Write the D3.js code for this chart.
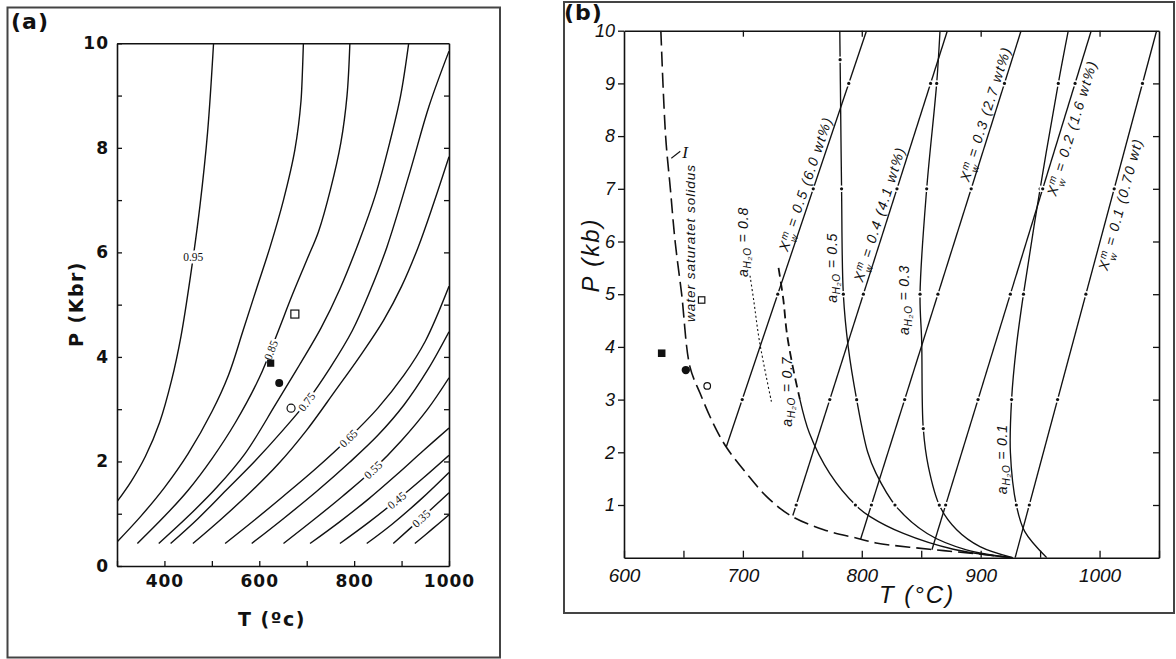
<!DOCTYPE html>
<html>
<head>
<meta charset="utf-8">
<title>Water activity and solidus, P-T</title>
<script src="https://cdn.jsdelivr.net/npm/d3@7"></script>
<style>
  body { margin: 0; background: #fff; }
  svg { display: block; }
</style>
</head>
<body>
<svg id="chart" width="1176" height="659"></svg>
<script>
// ---------- panel (a): water activity contours, T in degC, P in kbar ----------
const tempTicksA = [400, 600, 800, 1000];
const presTicksA = [0, 2, 4, 6, 8, 10];
const contourLevels = [0.95, 0.90, 0.85, 0.80, 0.75, 0.70, 0.65, 0.60, 0.55, 0.50, 0.45, 0.40, 0.35, 0.30];

const c095 = [[300, 1.23], [330, 1.62], [360, 2.1], [390, 2.75], [415, 3.55], [435, 4.4], [455, 5.55], [475, 6.9], [491, 8.3], [503.6, 10]];
const c090 = [[300, 0.46], [350, 0.95], [400, 1.5], [450, 2.15], [500, 2.95], [535, 3.65], [566, 4.51], [594, 5.3], [623, 6.11], [651, 7.0], [675, 7.96], [688, 8.9], [693, 10]];
const c085 = [[343, 0.43], [400, 0.95], [450, 1.45], [500, 2.05], [550, 2.75], [600, 3.6], [638, 4.45], [668, 5.15], [700, 5.85], [725, 6.4], [750, 7.2], [772, 8.1], [785, 9.0], [791, 10]];
const c080 = [[388, 0.43], [450, 0.95], [510, 1.5], [570, 2.15], [635, 3.1], [685, 3.85], [730, 4.55], [770, 5.3], [810, 6.2], [845, 7.1], [875, 8.1], [898, 9.0], [915, 10]];
const c075 = [[413, 0.43], [470, 0.9], [530, 1.45], [590, 2.0], [650, 2.6], [700, 3.14], [750, 3.8], [796, 4.5], [833, 5.25], [869, 6.1], [918, 7.55], [958, 8.8], [1000, 9.85]];
const c070 = [[460, 0.43], [520, 0.9], [580, 1.4], [640, 1.95], [700, 2.6], [760, 3.35], [815, 4.05], [862, 4.7], [900, 5.35], [935, 6.1], [968, 6.95], [1000, 7.83]];
const c065 = [[528, 0.43], [590, 0.88], [650, 1.33], [720, 1.87], [788, 2.44], [850, 3.02], [905, 3.65], [950, 4.3], [1000, 5.35]];
const c060 = [[584, 0.43], [650, 0.9], [720, 1.42], [790, 1.98], [850, 2.5], [905, 3.08], [955, 3.75], [1000, 4.48]];
const c055 = [[651, 0.43], [710, 0.85], [775, 1.33], [840, 1.84], [900, 2.4], [955, 3.0], [1000, 3.6]];
const c050 = [[707, 0.43], [770, 0.85], [830, 1.28], [890, 1.75], [945, 2.2], [1000, 2.64]];
const c045 = [[770, 0.43], [830, 0.83], [890, 1.26], [945, 1.68], [1000, 2.12]];
const c040 = [[826.5, 0.43], [880, 0.8], [940, 1.27], [1000, 1.79]];
const c035 = [[882.5, 0.43], [940, 0.9], [1000, 1.4]];
const c030 = [[928, 0.43], [965, 0.71], [1000, 0.98]];
const contoursA = [c095, c090, c085, c080, c075, c070, c065, c060, c055, c050, c045, c040, c035, c030];

// printed contour labels and the pressure at which each sits on its curve
const labelledLevels = [0.95, 0.85, 0.75, 0.65, 0.55, 0.45, 0.35];
const labelPressures = [5.92, 4.13, 3.14, 2.44, 1.84, 1.26, 0.91];

const samplesA = [
  { id: 'filledSquare', T: 624, P: 3.88 },
  { id: 'filledCircle', T: 642, P: 3.5 },
  { id: 'openCircle', T: 667, P: 3.02 },
  { id: 'openSquare', T: 675, P: 4.82 }
];

// ---------- panel (b): solidus, melt water isopleths, water activity ----------
const tempTicksB = [600, 700, 800, 900, 1000];
const presTicksB = [1, 2, 3, 4, 5, 6, 7, 8, 9, 10];

const solidus = [[631, 10], [635, 8], [639, 7], [643, 6], [648.5, 5], [655.5, 3.62], [664, 3.12], [675, 2.55], [686, 2.1], [703, 1.6], [720, 1.16], [740, 0.8], [768, 0.53], [796, 0.37], [812, 0.28], [857, 0.16], [899, 0.07], [925, 0]];

const xw05 = [[686, 2.1], [804, 10]];
const xw04 = [[742, 0.8], [872, 10]];
const xw03 = [[799, 0.35], [934, 10]];
const xw02 = [[859, 0.15], [993, 10]];
const xw01 = [[929, 0], [1048, 10]];
const xwLines = [xw05, xw04, xw03, xw02, xw01];
const xwNames = ['0.5 (6.0 wt%)', '0.4 (4.1 wt%)', '0.3 (2.7 wt%)', '0.2 (1.6 wt%)', '0.1 (0.70 wt)'];
const xwLabelP = [7.04, 6.47, 8.37, 8.21, 6.76];
const xwLabelSide = [-1, -1, -1, 1, 1];   // -1: left of the line, 1: right of it
const xwDots = [1, 3, 5, 7, 9];

const aw08 = [[706, 5.35], [709, 4.9], [714, 4.1], [724, 2.96]];
const aw07Upper = [[730, 5.5], [734, 4.9], [737, 4.26], [742, 3.62], [748, 3.0]];
const aw07Lower = [[748, 3.0], [756, 2.36], [773, 1.6], [796, 0.97], [807, 0.78], [835, 0.46], [877, 0.16], [925, 0]];
const aw05 = [[781.5, 10], [782, 9], [783, 7], [784.5, 5], [788.6, 4], [795.7, 3], [805, 2], [812, 1.6], [829, 0.97], [855, 0.46], [888, 0.15], [927, 0]];
const aw03 = [[865.8, 10], [863, 9], [854.6, 7], [849, 5], [850.4, 4.1], [851.7, 2.46], [856, 1.73], [865.8, 0.97], [879.8, 0.53], [899.4, 0.21], [927, 0]];
const aw01 = [[973.7, 10], [965.3, 9], [950, 7], [936, 5], [930, 4], [926, 3], [925, 2], [930, 1], [937, 0.5], [955.6, 0]];
const aw07Dots = [1, 3];
const aw05Dots = [1, 3, 5, 7, 9.45];
const aw03Dots = [1, 2.45, 5, 7, 9];
const aw01Dots = [1, 3, 5, 7, 9];

const awNames = ['0.8', '0.7', '0.5', '0.3', '0.1'];
const awLabelAt = [[700, 5.99], [737, 3.15], [775, 5.5], [836, 4.89], [918, 1.87]];
const solidusLabelAt = [655.5, 5.97];

const samplesB = [
  { id: 'filledSquare', T: 631.7, P: 3.88 },
  { id: 'filledCircle', T: 652, P: 3.56 },
  { id: 'openCircle', T: 670, P: 3.26 },
  { id: 'openSquare', T: 665.3, P: 4.89 }
];

// ---------------------------------------------------------------
const svg = d3.select('#chart');
const defs = svg.append('defs');
const INK = '#111';

// locate the point of a path at a given screen y, plus its direction
function locate(node, yTarget) {
  const len = node.getTotalLength();
  const n = 400;
  let best = 0, bestD = Infinity;
  for (let i = 0; i <= n; i++) {
    const l = len * i / n;
    const d = Math.abs(node.getPointAtLength(l).y - yTarget);
    if (d < bestD) { bestD = d; best = l; }
  }
  const step = len / n;
  for (let l = Math.max(0, best - step); l <= Math.min(len, best + step); l += step / 20) {
    const d = Math.abs(node.getPointAtLength(l).y - yTarget);
    if (d < bestD) { bestD = d; best = l; }
  }
  const p = node.getPointAtLength(best);
  const a = node.getPointAtLength(Math.max(0, best - 3));
  const b = node.getPointAtLength(Math.min(len, best + 3));
  let angle = Math.atan2(b.y - a.y, b.x - a.x) * 180 / Math.PI;
  if (angle > 90) angle -= 180;
  if (angle < -90) angle += 180;
  return { x: p.x, y: p.y, angle };
}

function drawSample(g, x, y, id, big) {
  const s = big ? 1 : 1.05;
  if (id === 'filledSquare') {
    g.append('rect').attr('x', x - 3.6 * s).attr('y', y - 3.6 * s).attr('width', 7.2 * s).attr('height', 7.2 * s).attr('fill', INK);
  } else if (id === 'filledCircle') {
    g.append('circle').attr('cx', x).attr('cy', y).attr('r', 4 * s).attr('fill', INK);
  } else if (id === 'openCircle') {
    g.append('circle').attr('cx', x).attr('cy', y).attr('r', big ? 4 : 3.3).attr('fill', '#fff').attr('stroke', INK).attr('stroke-width', 1.2);
  } else {
    const h = big ? 4 : 3.2;
    g.append('rect').attr('x', x - h).attr('y', y - h).attr('width', 2 * h).attr('height', 2 * h).attr('fill', '#fff').attr('stroke', INK).attr('stroke-width', 1.2);
  }
}

function styleAxis(g, font) {
  g.select('.domain').attr('stroke', INK).attr('stroke-width', 1.6);
  g.selectAll('.tick line').attr('stroke', INK).attr('stroke-width', 1.3);
  g.selectAll('.tick text').attr('fill', INK).attr('font-family', font.family)
    .attr('font-size', font.size).attr('font-weight', font.weight || 'normal')
    .attr('font-style', font.style || 'normal').attr('letter-spacing', font.spacing || 0);
}

// ================= panel (a) =================
const xA = d3.scaleLinear().domain([300, 1000]).range([117, 449]);
const yA = d3.scaleLinear().domain([0, 10]).range([566, 43.3]);
const gA = svg.append('g');

gA.append('rect').attr('x', 7.5).attr('y', 7.5).attr('width', 492.5).attr('height', 650)
  .attr('fill', 'none').attr('stroke', '#444').attr('stroke-width', 2);

defs.append('clipPath').attr('id', 'clipA').append('rect')
  .attr('x', xA(300)).attr('y', yA(10)).attr('width', xA(1000) - xA(300)).attr('height', yA(0) - yA(10));

const lineA = d3.line().x(d => xA(d[0])).y(d => yA(d[1])).curve(d3.curveCatmullRom.alpha(0.5));
const contourPaths = gA.append('g').attr('clip-path', 'url(#clipA)')
  .selectAll('path').data(contoursA).join('path')
  .attr('d', lineA).attr('fill', 'none').attr('stroke', INK).attr('stroke-width', 1.4);

labelledLevels.forEach((lev, i) => {
  const node = contourPaths.nodes()[contourLevels.indexOf(lev)];
  const loc = locate(node, yA(labelPressures[i]));
  const ang = i === 0 ? 0 : loc.angle;
  gA.append('text')
    .attr('transform', `translate(${loc.x},${loc.y}) rotate(${ang})`)
    .attr('text-anchor', 'middle').attr('dy', '0.35em')
    .attr('font-family', 'Liberation Serif, serif').attr('font-size', 11.5)
    .attr('fill', INK).attr('stroke', '#fff').attr('stroke-width', 5).attr('paint-order', 'stroke')
    .text(lev.toFixed(2));
});

const markA = gA.append('g');
samplesA.forEach(s => drawSample(markA, xA(s.T), yA(s.P), s.id, true));

const fontA = { family: 'DejaVu Sans, sans-serif', size: 17, weight: 'bold', spacing: 1 };
gA.append('g').attr('transform', `translate(0,${yA(0)})`)
  .call(d3.axisBottom(xA).tickValues(d3.range(300, 1001, 100)).tickSizeInner(-5).tickSizeOuter(0)
    .tickPadding(9).tickFormat(d => tempTicksA.includes(d) ? d : ''))
  .call(g => styleAxis(g, fontA));
gA.append('g').attr('transform', `translate(${xA(300)},0)`)
  .call(d3.axisLeft(yA).tickValues(d3.range(0, 11, 1)).tickSizeInner(-5).tickSizeOuter(0)
    .tickPadding(8).tickFormat(d => presTicksA.includes(d) ? d : ''))
  .call(g => styleAxis(g, fontA));
gA.append('g').attr('transform', `translate(${xA(1000)},0)`)
  .call(d3.axisRight(yA).tickValues(d3.range(1, 10, 1)).tickSizeInner(-5).tickSizeOuter(0).tickFormat(''))
  .call(g => styleAxis(g, fontA));
gA.append('g').attr('transform', `translate(0,${yA(10)})`)
  .call(d3.axisTop(xA).tickValues([]).tickSizeOuter(0))
  .call(g => styleAxis(g, fontA));

gA.append('text').attr('x', 11).attr('y', 29)
  .attr('font-family', 'DejaVu Sans, sans-serif').attr('font-weight', 'bold').attr('font-size', 22)
  .attr('letter-spacing', 1).attr('fill', INK).text('(a)');
gA.append('text').attr('transform', 'translate(76,304) rotate(-90)')
  .attr('text-anchor', 'middle').attr('dy', '0.35em')
  .attr('font-family', 'DejaVu Sans, sans-serif').attr('font-weight', 'bold').attr('font-size', 19)
  .attr('letter-spacing', 1.5).attr('fill', INK).text('P (Kbr)');
gA.append('text').attr('x', 272).attr('y', 619)
  .attr('text-anchor', 'middle').attr('dy', '0.35em')
  .attr('font-family', 'DejaVu Sans, sans-serif').attr('font-weight', 'bold').attr('font-size', 19)
  .attr('letter-spacing', 1.5).attr('fill', INK).text('T (ºc)');

// ================= panel (b) =================
const xB = d3.scaleLinear().domain([600, 1050]).range([624, 1159]);
const yB = d3.scaleLinear().domain([0, 10]).range([557.7, 30.7]);
const gB = svg.append('g');

gB.append('rect').attr('x', 564).attr('y', 2).attr('width', 610).attr('height', 611)
  .attr('fill', 'none').attr('stroke', '#444').attr('stroke-width', 2);

defs.append('clipPath').attr('id', 'clipB').append('rect')
  .attr('x', xB(600)).attr('y', yB(10)).attr('width', xB(1050) - xB(600)).attr('height', yB(0) - yB(10));

const curveB = d3.line().x(d => xB(d[0])).y(d => yB(d[1])).curve(d3.curveCatmullRom.alpha(0.5));
const straightB = d3.line().x(d => xB(d[0])).y(d => yB(d[1]));
const linesB = gB.append('g').attr('clip-path', 'url(#clipB)');

const solidusPath = linesB.append('path').attr('d', curveB(solidus)).attr('fill', 'none')
  .attr('stroke', INK).attr('stroke-width', 1.6).attr('stroke-dasharray', '15,6');

linesB.append('path').attr('d', curveB(aw08)).attr('fill', 'none')
  .attr('stroke', INK).attr('stroke-width', 1.1).attr('stroke-dasharray', '2,2.5');
linesB.append('path').attr('d', curveB(aw07Upper)).attr('fill', 'none')
  .attr('stroke', INK).attr('stroke-width', 1.8).attr('stroke-dasharray', '9,5');

const solidSets = [
  { pts: aw07Lower, dots: aw07Dots, curved: true },
  { pts: aw05, dots: aw05Dots, curved: true },
  { pts: aw03, dots: aw03Dots, curved: true },
  { pts: aw01, dots: aw01Dots, curved: true }
].concat(xwLines.map(pts => ({ pts, dots: xwDots, curved: false })));

const solidPaths = solidSets.map(s => linesB.append('path')
  .attr('d', s.curved ? curveB(s.pts) : straightB(s.pts)).attr('fill', 'none')
  .attr('stroke', INK).attr('stroke-width', 1.35));

// dotted breaks on each line
const dotLayer = gB.append('g');
solidSets.forEach((s, i) => {
  const pLo = d3.min(s.pts, d => d[1]), pHi = d3.max(s.pts, d => d[1]);
  s.dots.filter(p => p > pLo && p < pHi).forEach(p => {
    const loc = locate(solidPaths[i].node(), yB(p));
    dotLayer.append('circle').attr('cx', loc.x).attr('cy', loc.y).attr('r', 3.2).attr('fill', '#fff');
    dotLayer.append('circle').attr('cx', loc.x).attr('cy', loc.y).attr('r', 1.6).attr('fill', INK);
  });
});

// isopleth labels along the X lines
const labelFont = 'Liberation Sans, Arial, sans-serif';
xwLines.forEach((pts, i) => {
  const loc = locate(solidPaths[4 + i].node(), yB(xwLabelP[i]));
  const t = gB.append('text')
    .attr('transform', `translate(${loc.x},${loc.y}) rotate(${loc.angle})`)
    .attr('text-anchor', 'middle').attr('dy', xwLabelSide[i] < 0 ? -4 : 15)
    .attr('font-family', labelFont).attr('font-style', 'italic').attr('font-size', 14)
    .attr('letter-spacing', 1.4).attr('fill', INK);
  t.append('tspan').text('X');
  t.append('tspan').attr('font-size', 10).attr('dy', -5).text('m');
  t.append('tspan').attr('font-size', 10).attr('dx', -9).attr('dy', 10).text('w');
  t.append('tspan').attr('dy', -5).text(' = ' + xwNames[i]);
});

// water activity labels
awNames.forEach((name, i) => {
  const [T, P] = awLabelAt[i];
  const t = gB.append('text')
    .attr('transform', `translate(${xB(T)},${yB(P)}) rotate(-90)`)
    .attr('text-anchor', 'middle').attr('dy', '0.35em')
    .attr('font-family', labelFont).attr('font-style', 'italic').attr('font-size', 14)
    .attr('letter-spacing', 0.8).attr('fill', INK);
  t.append('tspan').text('a');
  t.append('tspan').attr('font-size', 10).attr('dy', 3).text('H₂O');
  t.append('tspan').attr('dy', -3).text(' = ' + name);
});

gB.append('text')
  .attr('transform', `translate(${xB(solidusLabelAt[0])},${yB(solidusLabelAt[1])}) rotate(-90)`)
  .attr('text-anchor', 'middle').attr('dy', '0.35em')
  .attr('font-family', labelFont).attr('font-style', 'italic').attr('font-size', 13.5)
  .attr('letter-spacing', 1).attr('fill', INK).text('water saturatet solidus');

// "I" tag on the solidus
const tag = locate(solidusPath.node(), yB(7.6));
gB.append('line').attr('x1', tag.x + 4).attr('y1', tag.y + 1).attr('x2', tag.x + 13).attr('y2', tag.y - 6)
  .attr('stroke', INK).attr('stroke-width', 1.1);
gB.append('text').attr('x', tag.x + 15).attr('y', tag.y + 1)
  .attr('font-family', 'Liberation Serif, serif').attr('font-style', 'italic').attr('font-size', 17)
  .attr('fill', INK).text('I');

const markB = gB.append('g');
samplesB.forEach(s => drawSample(markB, xB(s.T), yB(s.P), s.id, false));

const fontB = { family: labelFont, size: 19, style: 'italic' };
gB.append('g').attr('transform', `translate(0,${yB(0)})`)
  .call(d3.axisBottom(xB).tickValues(d3.range(600, 1051, 50)).tickSizeInner(-7).tickSizeOuter(0)
    .tickPadding(11).tickFormat(d => tempTicksB.includes(d) ? d : ''))
  .call(g => styleAxis(g, fontB));
gB.append('g').attr('transform', `translate(${xB(600)},0)`)
  .call(d3.axisLeft(yB).tickValues(presTicksB).tickSizeInner(6).tickSizeOuter(0).tickPadding(3))
  .call(g => styleAxis(g, { family: labelFont, size: 18, style: 'italic' }));
gB.append('g').attr('transform', `translate(${xB(1050)},0)`)
  .call(d3.axisRight(yB).tickValues(d3.range(1, 10, 1)).tickSizeInner(-6).tickSizeOuter(0).tickFormat(''))
  .call(g => styleAxis(g, fontB));
gB.append('g').attr('transform', `translate(0,${yB(10)})`)
  .call(d3.axisTop(xB).tickValues([700, 800, 900, 1000]).tickSizeInner(-6).tickSizeOuter(0).tickFormat(''))
  .call(g => styleAxis(g, fontB));

gB.append('text').attr('x', 564).attr('y', 20)
  .attr('font-family', 'DejaVu Sans, sans-serif').attr('font-weight', 'bold').attr('font-size', 22)
  .attr('letter-spacing', 1).attr('fill', INK).text('(b)');
gB.append('text').attr('transform', 'translate(591,255) rotate(-90)')
  .attr('text-anchor', 'middle').attr('dy', '0.35em')
  .attr('font-family', labelFont).attr('font-style', 'italic').attr('font-size', 24)
  .attr('letter-spacing', 2).attr('fill', INK).text('P (kb)');
gB.append('text').attr('x', 917).attr('y', 595)
  .attr('text-anchor', 'middle').attr('dy', '0.35em')
  .attr('font-family', labelFont).attr('font-style', 'italic').attr('font-size', 24)
  .attr('letter-spacing', 2).attr('fill', INK).text('T (°C)');
</script>
</body>
</html>
